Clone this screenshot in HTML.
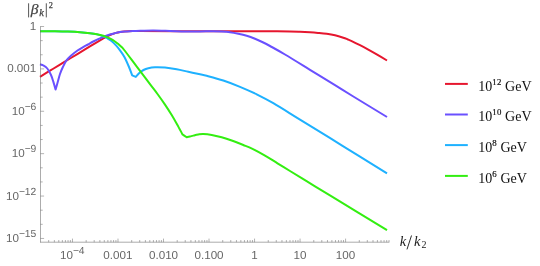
<!DOCTYPE html>
<html><head><meta charset="utf-8"><style>
html,body{margin:0;padding:0;background:#fff;}
svg{display:block;}
text{font-family:"Liberation Sans",sans-serif;}
.t{fill:#666;text-rendering:geometricPrecision;}
.m text{font-family:"Liberation Serif",serif;}
</style></head><body>
<svg width="540" height="266" viewBox="0 0 540 266">
<g fill="none" stroke-width="2.0" stroke-linejoin="round" stroke-linecap="butt">
<path stroke="#e6162e" d="M40.00 76.80 C41.67 75.78 46.67 72.73 50.00 70.70 C53.33 68.67 56.53 66.72 60.00 64.60 C63.47 62.48 66.63 60.53 70.80 58.00 C74.97 55.47 81.25 51.67 85.00 49.40 C88.75 47.13 90.52 46.07 93.30 44.40 C96.08 42.73 99.42 40.73 101.70 39.40 C103.98 38.07 105.33 37.25 107.00 36.40 C108.67 35.55 110.20 34.88 111.70 34.30 C113.20 33.72 114.62 33.28 116.00 32.90 C117.38 32.52 118.67 32.23 120.00 32.00 C121.33 31.77 122.67 31.62 124.00 31.50 C125.33 31.38 126.50 31.32 128.00 31.25 C129.50 31.18 131.00 31.12 133.00 31.10 C135.00 31.08 128.83 31.08 140.00 31.10 C151.17 31.12 181.67 31.18 200.00 31.20 C218.33 31.22 238.33 31.19 250.00 31.20 C261.67 31.21 263.33 31.20 270.00 31.25 C276.67 31.30 285.00 31.41 290.00 31.50 C295.00 31.59 296.67 31.67 300.00 31.80 C303.33 31.93 307.00 32.12 310.00 32.30 C313.00 32.48 315.22 32.65 318.00 32.90 C320.78 33.15 323.87 33.40 326.70 33.80 C329.53 34.20 332.23 34.65 335.00 35.30 C337.77 35.95 341.22 37.03 343.30 37.70 C345.38 38.37 346.10 38.73 347.50 39.30 C348.90 39.87 349.62 40.12 351.70 41.10 C353.78 42.08 357.23 43.78 360.00 45.20 C362.77 46.62 365.52 48.07 368.30 49.60 C371.08 51.13 373.58 52.58 376.70 54.40 C379.82 56.22 385.28 59.48 387.00 60.50"/>
<path stroke="#6a50ff" d="M40.00 64.30 C40.58 64.50 42.28 64.80 43.50 65.50 C44.72 66.20 46.05 66.92 47.30 68.50 C48.55 70.08 50.00 72.82 51.00 75.00 C52.00 77.18 52.53 79.17 53.30 81.60 C54.07 84.03 55.22 88.27 55.60 89.60 C55.97 88.30 57.07 84.40 57.80 81.80 C58.53 79.20 59.13 76.50 60.00 74.00 C60.87 71.50 61.95 69.02 63.00 66.80 C64.05 64.58 64.98 62.53 66.30 60.70 C67.62 58.87 69.03 57.50 70.90 55.80 C72.77 54.10 75.53 51.92 77.50 50.50 C79.47 49.08 80.95 48.30 82.70 47.30 C84.45 46.30 86.23 45.47 88.00 44.50 C89.77 43.53 91.02 42.65 93.30 41.50 C95.58 40.35 98.92 38.77 101.70 37.60 C104.48 36.43 107.78 35.25 110.00 34.50 C112.22 33.75 113.33 33.50 115.00 33.10 C116.67 32.70 118.33 32.37 120.00 32.10 C121.67 31.83 123.33 31.65 125.00 31.50 C126.67 31.35 128.17 31.28 130.00 31.20 C131.83 31.12 132.17 31.13 136.00 31.00 C139.83 30.87 147.33 30.42 153.00 30.40 C158.67 30.38 164.67 30.72 170.00 30.90 C175.33 31.08 180.00 31.42 185.00 31.50 C190.00 31.58 195.28 31.45 200.00 31.40 C204.72 31.35 209.63 31.18 213.30 31.20 C216.97 31.22 219.22 31.33 222.00 31.50 C224.78 31.67 227.28 31.83 230.00 32.20 C232.72 32.57 235.52 33.10 238.30 33.70 C241.08 34.30 243.92 34.95 246.70 35.80 C249.48 36.65 252.23 37.68 255.00 38.80 C257.77 39.92 260.80 41.30 263.30 42.50 C265.80 43.70 266.38 44.00 270.00 46.00 C273.62 48.00 278.33 50.53 285.00 54.50 C291.67 58.47 301.67 64.68 310.00 69.80 C318.33 74.92 327.92 80.83 335.00 85.20 C342.08 89.57 343.83 90.70 352.50 96.00 C361.17 101.30 381.25 113.50 387.00 117.00"/>
<path stroke="#1eb1ff" d="M40.00 31.20 C42.50 31.22 50.33 31.23 55.00 31.30 C59.67 31.37 63.83 31.45 68.00 31.60 C72.17 31.75 76.33 31.93 80.00 32.20 C83.67 32.47 87.17 32.83 90.00 33.20 C92.83 33.57 94.78 33.87 97.00 34.40 C99.22 34.93 101.55 35.73 103.30 36.40 C105.05 37.07 106.13 37.63 107.50 38.40 C108.87 39.17 110.08 39.83 111.50 41.00 C112.92 42.17 114.58 43.85 116.00 45.40 C117.42 46.95 118.60 48.37 120.00 50.30 C121.40 52.23 122.90 54.22 124.40 57.00 C125.90 59.78 127.70 63.95 129.00 67.00 C130.30 70.05 131.67 73.92 132.20 75.30 C132.80 75.57 135.20 76.63 135.80 76.90 C136.38 76.25 138.02 74.15 139.30 73.00 C140.58 71.85 142.00 70.80 143.50 70.00 C145.00 69.20 146.38 68.65 148.30 68.20 C150.22 67.75 152.22 67.40 155.00 67.30 C157.78 67.20 161.38 67.27 165.00 67.60 C168.62 67.93 172.82 68.60 176.70 69.30 C180.58 70.00 184.42 70.97 188.30 71.80 C192.18 72.63 196.93 73.63 200.00 74.30 C203.07 74.97 202.82 74.77 206.70 75.80 C210.58 76.83 217.75 78.67 223.30 80.50 C228.85 82.33 234.43 84.50 240.00 86.80 C245.57 89.10 251.15 91.57 256.70 94.30 C262.25 97.03 266.08 98.98 273.30 103.20 C280.52 107.42 288.47 112.50 300.00 119.60 C311.53 126.70 328.00 136.85 342.50 145.80 C357.00 154.75 379.58 168.72 387.00 173.30"/>
<path stroke="#33ee11" d="M40.00 31.20 C42.50 31.22 50.33 31.23 55.00 31.30 C59.67 31.37 63.83 31.45 68.00 31.60 C72.17 31.75 76.33 31.93 80.00 32.20 C83.67 32.47 87.17 32.85 90.00 33.20 C92.83 33.55 94.78 33.87 97.00 34.30 C99.22 34.73 101.55 35.30 103.30 35.80 C105.05 36.30 106.10 36.72 107.50 37.30 C108.90 37.88 110.45 38.60 111.70 39.30 C112.95 40.00 113.95 40.75 115.00 41.50 C116.05 42.25 117.00 42.97 118.00 43.80 C119.00 44.63 119.97 45.47 121.00 46.50 C122.03 47.53 122.03 47.27 124.20 50.00 C126.37 52.73 131.37 59.43 134.00 62.90 C136.63 66.37 137.33 67.25 140.00 70.80 C142.67 74.35 147.08 80.33 150.00 84.20 C152.92 88.07 155.00 90.60 157.50 94.00 C160.00 97.40 162.63 101.10 165.00 104.60 C167.37 108.10 169.70 111.73 171.70 115.00 C173.70 118.27 175.20 120.97 177.00 124.20 C178.80 127.43 181.58 132.70 182.50 134.40 C183.20 134.88 186.00 136.82 186.70 137.30 C187.25 137.17 188.90 136.78 190.00 136.50 C191.10 136.22 191.92 135.93 193.30 135.60 C194.68 135.27 196.63 134.77 198.30 134.50 C199.97 134.23 201.07 133.93 203.30 134.00 C205.53 134.07 208.63 134.35 211.70 134.90 C214.77 135.45 218.37 136.37 221.70 137.30 C225.03 138.23 228.10 139.22 231.70 140.50 C235.30 141.78 239.83 143.60 243.30 145.00 C246.77 146.40 248.88 147.13 252.50 148.90 C256.12 150.67 260.83 153.20 265.00 155.60 C269.17 158.00 273.33 160.73 277.50 163.30 C281.67 165.87 285.83 168.43 290.00 171.00 C294.17 173.57 298.33 176.15 302.50 178.70 C306.67 181.25 310.22 183.40 315.00 186.30 C319.78 189.20 319.20 188.80 331.20 196.10 C343.20 203.40 377.70 224.43 387.00 230.10"/>
</g>
<g stroke="#666" stroke-width="0.5" fill="none">
<path stroke-width="0.55" d="M40.5 26.25 V242.5 M40.2 242.2 H389.3"/>
<path d="M48.67 242.20 V240.00 M54.36 242.20 V240.00 M58.77 242.20 V240.00 M62.37 242.20 V240.00 M65.42 242.20 V240.00 M68.06 242.20 V240.00 M70.39 242.20 V240.00 M72.47 242.20 V238.60 M86.17 242.20 V240.00 M94.19 242.20 V240.00 M99.88 242.20 V240.00 M104.29 242.20 V240.00 M107.89 242.20 V240.00 M110.94 242.20 V240.00 M113.58 242.20 V240.00 M115.91 242.20 V240.00 M117.99 242.20 V238.60 M131.69 242.20 V240.00 M139.71 242.20 V240.00 M145.40 242.20 V240.00 M149.81 242.20 V240.00 M153.41 242.20 V240.00 M156.46 242.20 V240.00 M159.10 242.20 V240.00 M161.43 242.20 V240.00 M163.51 242.20 V238.60 M177.21 242.20 V240.00 M185.23 242.20 V240.00 M190.92 242.20 V240.00 M195.33 242.20 V240.00 M198.93 242.20 V240.00 M201.98 242.20 V240.00 M204.62 242.20 V240.00 M206.95 242.20 V240.00 M209.03 242.20 V238.60 M222.73 242.20 V240.00 M230.75 242.20 V240.00 M236.44 242.20 V240.00 M240.85 242.20 V240.00 M244.45 242.20 V240.00 M247.50 242.20 V240.00 M250.14 242.20 V240.00 M252.47 242.20 V240.00 M254.55 242.20 V238.60 M268.25 242.20 V240.00 M276.27 242.20 V240.00 M281.96 242.20 V240.00 M286.37 242.20 V240.00 M289.97 242.20 V240.00 M293.02 242.20 V240.00 M295.66 242.20 V240.00 M297.99 242.20 V240.00 M300.07 242.20 V238.60 M313.77 242.20 V240.00 M321.79 242.20 V240.00 M327.48 242.20 V240.00 M331.89 242.20 V240.00 M335.49 242.20 V240.00 M338.54 242.20 V240.00 M341.18 242.20 V240.00 M343.51 242.20 V240.00 M345.59 242.20 V238.60 M359.29 242.20 V240.00 M367.31 242.20 V240.00 M373.00 242.20 V240.00 M377.41 242.20 V240.00 M381.01 242.20 V240.00 M384.06 242.20 V240.00 M386.70 242.20 V240.00 M389.03 242.20 V240.00 "/>
<path d="M40.50 26.50 H44.10 M40.50 40.63 H42.70 M40.50 54.76 H42.70 M40.50 68.89 H44.10 M40.50 83.02 H42.70 M40.50 97.15 H42.70 M40.50 111.28 H44.10 M40.50 125.41 H42.70 M40.50 139.54 H42.70 M40.50 153.67 H44.10 M40.50 167.80 H42.70 M40.50 181.93 H42.70 M40.50 196.06 H44.10 M40.50 210.19 H42.70 M40.50 224.32 H42.70 M40.50 238.45 H44.10 "/>
</g>
<g class="t" style="will-change:transform;filter:grayscale(1)">
<text transform="translate(36.30,29.90) scale(1,1.0)" text-anchor="end" font-size="11.65px">1</text>
<text transform="translate(36.30,71.99) scale(1,1.0)" text-anchor="end" font-size="11.65px">0.001</text>
<text transform="translate(36.30,115.08) scale(1,1.0)" text-anchor="end" font-size="11.65px">10<tspan font-size="10.3px" dy="-5.15" letter-spacing="-0.15">−</tspan><tspan font-size="10.3px">6</tspan></text>
<text transform="translate(36.30,157.47) scale(1,1.0)" text-anchor="end" font-size="11.65px">10<tspan font-size="10.3px" dy="-5.15" letter-spacing="-0.15">−</tspan><tspan font-size="10.3px">9</tspan></text>
<text transform="translate(36.30,199.86) scale(1,1.0)" text-anchor="end" font-size="11.65px">10<tspan font-size="10.3px" dy="-5.15" letter-spacing="-0.15">−</tspan><tspan font-size="10.3px">12</tspan></text>
<text transform="translate(36.30,242.25) scale(1,1.0)" text-anchor="end" font-size="11.65px">10<tspan font-size="10.3px" dy="-5.15" letter-spacing="-0.15">−</tspan><tspan font-size="10.3px">15</tspan></text>
<text transform="translate(72.30,259.00) scale(1,1.0)" text-anchor="middle" font-size="11.65px">10<tspan font-size="10.3px" dy="-5.15" letter-spacing="-0.15">−</tspan><tspan font-size="10.3px">4</tspan></text>
<text transform="translate(117.79,259.00) scale(1,1.0)" text-anchor="middle" font-size="11.65px">0.001</text>
<text transform="translate(163.51,259.00) scale(1,1.0)" text-anchor="middle" font-size="11.65px">0.010</text>
<text transform="translate(209.03,259.00) scale(1,1.0)" text-anchor="middle" font-size="11.65px">0.100</text>
<text transform="translate(254.55,259.00) scale(1,1.0)" text-anchor="middle" font-size="11.65px">1</text>
<text transform="translate(300.07,259.00) scale(1,1.0)" text-anchor="middle" font-size="11.65px">10</text>
<text transform="translate(345.59,259.00) scale(1,1.0)" text-anchor="middle" font-size="11.65px">100</text>
</g>
<g class="m" fill="#444" style="will-change:transform;filter:grayscale(1)">
<path d="M28.6 3.3 V17.4 M46.3 3.3 V17.4" stroke="#444" stroke-width="0.9" fill="none"/>
<g stroke="#444" stroke-width="0.25">
<text x="30.7" y="13.5" font-size="15.5px" font-style="italic">β</text>
<text x="39.2" y="16.1" font-size="10.4px" font-style="italic">k</text>
<text x="48.8" y="8.4" font-size="8.3px">2</text>
</g>
</g>
<g class="m" fill="#222" style="will-change:transform;filter:grayscale(1)">
<text x="399.7" y="246" font-size="14.5px" font-style="italic">k</text>
<path d="M411.5 235.5 L407.0 249.4" stroke="#222" stroke-width="0.95" fill="none"/>
<text x="413.9" y="246" font-size="14.5px" font-style="italic">k</text>
<text x="421.4" y="247.9" font-size="10px">2</text>
</g>
<g stroke-width="2.0" fill="none">
<path stroke="#e6162e" d="M445 83.9 H467.8"/>
<path stroke="#6a50ff" d="M445 114.5 H467.8"/>
<path stroke="#1eb1ff" d="M445 145.1 H467.8"/>
<path stroke="#33ee11" d="M445 175.9 H467.8"/>
</g>
<g class="m" fill="#111" font-size="14px" style="will-change:transform;filter:grayscale(1)">
<text x="478.3" y="90.8">10<tspan font-size="8.8px" dy="-6.1" letter-spacing="0.25" stroke="#111" stroke-width="0.2">12</tspan><tspan dy="6.1"> GeV</tspan></text>
<text x="478.3" y="121.4">10<tspan font-size="8.8px" dy="-6.1" letter-spacing="0.25" stroke="#111" stroke-width="0.2">10</tspan><tspan dy="6.1"> GeV</tspan></text>
<text x="478.3" y="152.0">10<tspan font-size="8.8px" dy="-6.1" letter-spacing="0.25" stroke="#111" stroke-width="0.2">8</tspan><tspan dy="6.1"> GeV</tspan></text>
<text x="478.3" y="182.8">10<tspan font-size="8.8px" dy="-6.1" letter-spacing="0.25" stroke="#111" stroke-width="0.2">6</tspan><tspan dy="6.1"> GeV</tspan></text>
</g>
</svg>
</body></html>
